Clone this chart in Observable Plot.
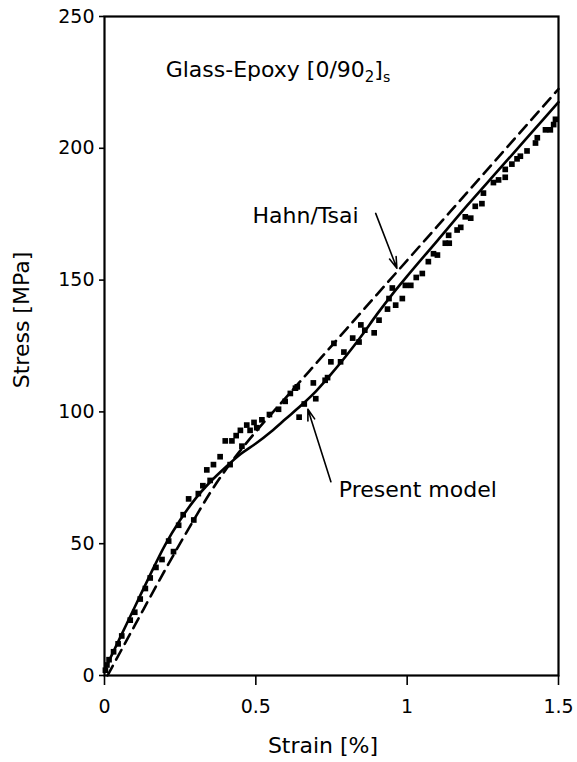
<!DOCTYPE html>
<html>
<head>
<meta charset="utf-8">
<script src="https://cdn.jsdelivr.net/npm/d3@7"></script>
<script src="https://cdn.jsdelivr.net/npm/@observablehq/plot@0.6"></script>
<style>
  body { margin: 0; background: #fff; }
  #chart svg { display: block; }
</style>
</head>
<body>
<div id="chart"></div>
<script>
// ---- tick values ----
const strainTicks = [0, 0.5, 1, 1.5];
const stressTicks = [0, 50, 100, 150, 200, 250];

// ---- Present model (solid) ----
const modelStrain = [0, 0.05, 0.1, 0.15, 0.2, 0.25, 0.3, 0.35, 0.4, 0.45, 0.5, 0.55, 0.6, 0.65, 0.7, 0.75, 0.8, 0.85, 0.9, 0.95, 1.0, 1.1, 1.2, 1.3, 1.4, 1.5];
const modelStress = [2, 14, 26, 38, 49.5, 59, 67, 73.5, 79, 84, 88, 92.5, 97.5, 102.5, 108, 114.5, 121.5, 129, 137, 144.5, 151.5, 165, 178.5, 191.5, 204.5, 217.5];

// ---- Hahn/Tsai (dashed) ----
const hahnStrain = [0.01, 0.1, 0.2, 0.3, 0.35, 0.4, 0.45, 0.5, 0.6, 0.7, 0.8, 0.9, 1.0, 1.1, 1.2, 1.3, 1.4, 1.5];
const hahnStress = [0, 19, 40, 60, 69.5, 78, 85.5, 92.5, 105.5, 118.5, 131.5, 144.5, 157.5, 170.5, 183.5, 196.5, 209.5, 222.5];

// ---- Experiment (squares) ----
const testStrain = [0.003, 0.008, 0.015, 0.03, 0.045, 0.057, 0.085, 0.1, 0.118, 0.135, 0.151, 0.17, 0.19, 0.212, 0.228, 0.245, 0.26, 0.278, 0.295, 0.31, 0.325, 0.338, 0.349, 0.36, 0.382, 0.399, 0.415, 0.421, 0.435, 0.449, 0.454, 0.47, 0.481, 0.494, 0.503, 0.52, 0.545, 0.575, 0.597, 0.614, 0.631, 0.637, 0.643, 0.66, 0.69, 0.698, 0.729, 0.737, 0.748, 0.758, 0.78, 0.791, 0.82, 0.841, 0.847, 0.86, 0.891, 0.907, 0.935, 0.94, 0.951, 0.962, 0.984, 0.994, 1.012, 1.03, 1.05, 1.07, 1.087, 1.1, 1.126, 1.139, 1.137, 1.165, 1.177, 1.192, 1.21, 1.225, 1.247, 1.252, 1.285, 1.302, 1.324, 1.324, 1.346, 1.363, 1.374, 1.396, 1.424, 1.43, 1.457, 1.473, 1.484, 1.49];
const testStress = [2, 4, 6, 9, 12, 15, 21, 24, 29, 33, 37, 41, 44, 51, 47, 57, 61, 67, 59, 69, 72, 78, 74, 80, 83, 89, 80, 89, 91, 93, 87, 95, 93, 96, 94, 97, 99, 101, 104, 107, 109, 109.5, 98, 103, 111, 105, 112, 113, 119, 126, 119, 122.7, 128, 126.5, 133, 131, 130, 134.8, 139, 143, 147, 140.5, 143, 148, 148, 151, 152.5, 157, 160, 159.5, 164, 164, 167, 169, 170, 174, 173.5, 178, 179, 183, 187, 188, 189, 192, 194, 196, 197, 199, 202, 204, 207, 207, 209, 211];

// ---- annotations ----
const noteText = ["Hahn/Tsai", "Present model"];
const noteStrain = [0.489, 0.774];
const noteStress = [171.5, 67.6];
const arrowFromStrain = [0.896, 0.748];
const arrowFromStress = [175.3, 73.5];
const arrowToStrain = [0.966, 0.672];
const arrowToStress = [154.5, 101];
const titleStrain = [0.202];
const titleStress = [227];
const titleText = ["Glass-Epoxy [0/902]s"];

const FONT = "DejaVu Sans";

const chart = Plot.plot({
  width: 577,
  height: 762,
  marginLeft: 104,
  marginRight: 19,
  marginTop: 16,
  marginBottom: 87,
  style: { fontFamily: FONT, background: "white", color: "black", overflow: "visible" },
  x: { domain: [0, 1.5] },
  y: { domain: [0, 250] },
  marks: [
    Plot.axisX({ ticks: strainTicks, tickFormat: d => String(d), tickSize: 10, tickPadding: 14, fontSize: 19, label: null, strokeWidth: 1.6 }),
    Plot.axisY({ ticks: stressTicks, tickFormat: d => String(d), tickSize: 5, tickPadding: 5, fontSize: 19, label: null, strokeWidth: 1.6 }),
    Plot.frame({ stroke: "black", strokeWidth: 2.2 }),
    Plot.dot(testStrain, { x: testStrain, y: testStress, symbol: "square", r: 3.2, fill: "black", stroke: "none" }),
    Plot.line(hahnStrain, { x: hahnStrain, y: hahnStress, stroke: "black", strokeWidth: 2.6, strokeDasharray: "11,7", curve: "monotone-x" }),
    Plot.line(modelStrain, { x: modelStrain, y: modelStress, stroke: "black", strokeWidth: 2.6, curve: "monotone-x" }),
    Plot.arrow(noteText, { x1: arrowFromStrain, y1: arrowFromStress, x2: arrowToStrain, y2: arrowToStress, stroke: "black", strokeWidth: 1.6, headLength: 11, headAngle: 35 }),
    Plot.text(noteText, { x: noteStrain, y: noteStress, text: noteText, textAnchor: "start", lineAnchor: "bottom", fontSize: 22, fill: "black" }),
    Plot.text(titleText, { x: titleStrain, y: titleStress, text: titleText, textAnchor: "start", lineAnchor: "bottom", fontSize: 22, fill: "black", className: "fig-title" })
  ]
});

document.getElementById("chart").appendChild(chart);

// subscripts in the title
const svg = d3.select(chart);
const t = svg.select("g.fig-title text");
if (!t.empty()) {
  t.text(null);
  t.append("tspan").text("Glass-Epoxy [0/90");
  t.append("tspan").attr("font-size", 15).attr("dy", 5).text("2");
  t.append("tspan").attr("dy", -5).text("]");
  t.append("tspan").attr("font-size", 14).attr("dy", 5).text("s");
}

// axis titles
svg.append("text")
  .attr("x", 323).attr("y", 753)
  .attr("text-anchor", "middle")
  .attr("font-family", FONT).attr("font-size", 22).attr("fill", "black")
  .text("Strain [%]");
svg.append("text")
  .attr("transform", "translate(29,320) rotate(-90)")
  .attr("text-anchor", "middle")
  .attr("font-family", FONT).attr("font-size", 22).attr("fill", "black")
  .text("Stress [MPa]");
</script>
</body>
</html>
